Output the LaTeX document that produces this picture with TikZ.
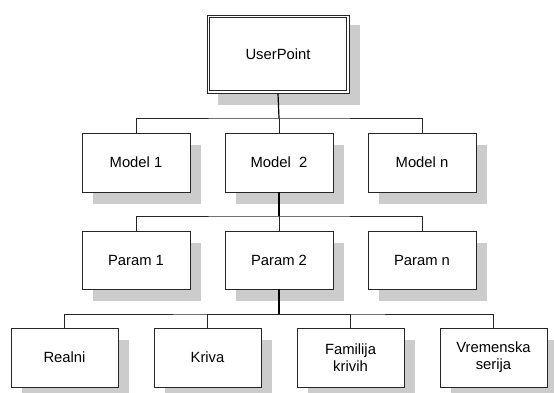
\documentclass[tikz,border=0pt]{standalone}
\usepackage{fontspec}
\setmainfont{Liberation Sans}
\usetikzlibrary{shadows}
\begin{document}
\begin{tikzpicture}[x=1pt,y=-1pt,
  box/.style={draw=black!85, line width=0.9pt, fill=white, align=center,
    inner sep=0pt, font=\fontsize{14.8}{17}\selectfont,
    drop shadow={shadow xshift=11pt, shadow yshift=-12pt, fill=black!20, opacity=1}},
  conn/.style={draw=black!85, line width=0.9pt},
  trunk/.style={draw=black, line width=1.2pt}]
\useasboundingbox (0,0) rectangle (554,392);
% top
\node[box, minimum width=142pt, minimum height=78pt,
  drop shadow={shadow xshift=11pt, shadow yshift=-10pt, fill=black!20, opacity=1}] (up) at (278,54) {UserPoint};
\draw[draw=black!85, line width=0.9pt] ([shift={(2.6,2.6)}]up.north west) rectangle ([shift={(-2.6,-2.6)}]up.south east);
% models
\node[box, minimum width=108pt, minimum height=59pt] (m1) at (136,162.5) {Model 1};
\node[box, minimum width=108pt, minimum height=59pt] (m2) at (279,162.5) {Model\ \ 2};
\node[box, minimum width=108pt, minimum height=59pt] (mn) at (422,162.5) {Model n};
% params
\node[box, minimum width=108pt, minimum height=58pt] (p1) at (136,260) {Param 1};
\node[box, minimum width=108pt, minimum height=58pt] (p2) at (279,260) {Param 2};
\node[box, minimum width=108pt, minimum height=58pt] (pn) at (422,260) {Param n};
% types
\node[box, minimum width=107pt, minimum height=59pt] (t1) at (64.5,357.5) {Realni};
\node[box, minimum width=107pt, minimum height=59pt] (t2) at (207.5,357.5) {Kriva};
\node[box, minimum width=107pt, minimum height=59pt] (t3) at (350.5,357.5) {Familija\\krivih};
\node[box, minimum width=107pt, minimum height=59pt] (t4) at (493.5,357.5) {Vremenska\\serija};
% connectors
\coordinate (b1) at (279,118);
\coordinate (b2) at (279,216);
\coordinate (b3) at (279,314);
\draw[trunk] (up.south) -- (b1);
\draw[conn] (m1.north) |- (b1) -| (mn.north);
\draw[conn] (m2.north) -- (b1);
\draw[trunk] (m2.south) -- (b2);
\draw[conn] (p1.north) |- (b2) -| (pn.north);
\draw[conn] (p2.north) -- (b2);
\draw[trunk] (p2.south) -- (b3);
\draw[conn] (t1.north) |- (b3) -| (t4.north);
\draw[conn] (t2.north) |- (b3);
\draw[conn] (t3.north) |- (b3);
\end{tikzpicture}
\end{document}
